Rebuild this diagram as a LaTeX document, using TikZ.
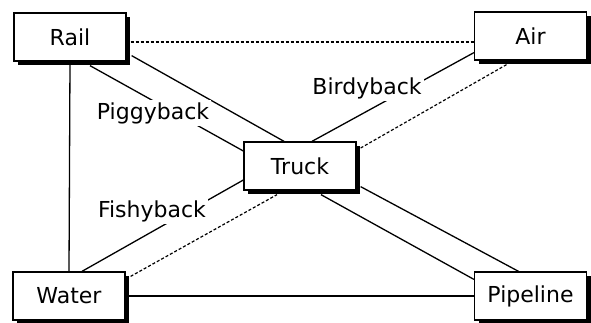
\documentclass[tikz,border=0pt]{standalone}
\usepackage{fontspec}
\setmainfont{DejaVu Sans}
\usetikzlibrary{shadows}
\tikzset{
	box/.style={draw,line width=1.3pt,fill=white,minimum width=112pt,minimum height=48pt,inner sep=0pt,
		font=\fontsize{22}{26}\selectfont,
		drop shadow={shadow xshift=4pt,shadow yshift=-4pt,fill=black,opacity=1}},
	lbl/.style={fill=white,inner sep=2pt,font=\fontsize{22}{26}\selectfont},
	link/.style={line width=1.3pt},
	dlink/.style={line width=1.2pt,dash pattern=on 3pt off 2pt}
}

\begin{document}
\begin{tikzpicture}[x=1pt,y=-1pt]
\useasboundingbox (0,0) rectangle (591,322);
	\node[box] (Rail) at (70,37) {Rail};
	\node[box] (Air) at (530.5,36) {Air};
	\node[box] (Truck) at (300,166) {Truck};
	\node[box] (Water) at (69,296) {Water};
	\node[box] (Pipe) at (530.5,296) {Pipeline};
	% outer frame
	\draw[link] (Rail.south) -- (Water.north);
	\draw[link] (Water.east) -- (Pipe.west);
	\draw[dlink] ([xshift=4pt,yshift=-5pt]Rail.east) -- ([yshift=-6pt]Air.west);
	% to the truck
	\draw[link] ([xshift=5pt,yshift=6pt]Rail.south east) -- ([xshift=-16pt]Truck.north);
	\draw[link] ([xshift=20pt,yshift=-4pt]Rail.south) -- ([yshift=15pt]Truck.west);
	\draw[link] ([yshift=8pt]Air.south west) -- ([xshift=12pt]Truck.north);
	\draw[dlink] ([xshift=-24pt,yshift=-4pt]Air.south) -- ([xshift=4pt,yshift=18pt]Truck.east);
	\draw[link] ([xshift=13pt]Water.north) -- ([yshift=-14pt]Truck.west);
	\draw[dlink] ([xshift=5pt,yshift=-5pt]Water.north east) -- ([xshift=-23pt,yshift=-4pt]Truck.south);
	\draw[link] ([xshift=21pt,yshift=-4pt]Truck.south) -- ([yshift=-8pt]Pipe.north west);
	\draw[link] ([xshift=4pt,yshift=4pt]Truck.south east) -- ([xshift=-12pt]Pipe.north);
	% labels
	\node[lbl] (Pig) at (153,113) {Piggyback};
	\node[lbl] (Bird) at (367,88) {Birdyback};
	\node[lbl] (Fish) at (152,211) {Fishyback};
\end{tikzpicture}
\end{document}
